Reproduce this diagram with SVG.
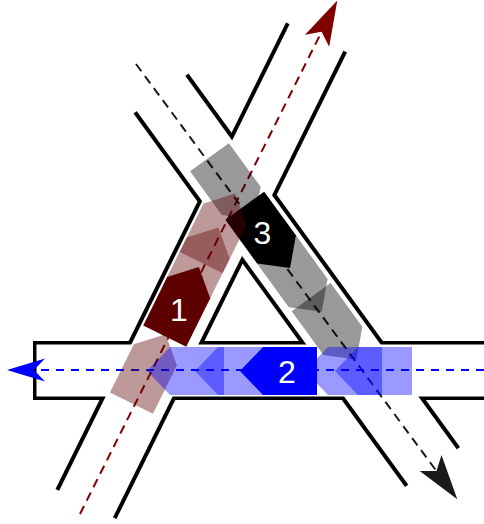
<svg xmlns="http://www.w3.org/2000/svg" width="484" height="524" viewBox="0 0 484 524">
<style>
.rb{stroke:#000;stroke-linecap:butt;fill:none}
.rw{stroke:#fff;stroke-linecap:butt;fill:none}
.lane{fill:none;stroke-width:2}
.lbl{font-family:"Liberation Sans",Arial,sans-serif;font-size:32px;fill:#fff;text-anchor:middle}
.ghost{fill-opacity:0.4}
</style>
<defs>
<path id="car" d="M-38.5,-24H15.5L38.5,0L15.5,24H-38.5Z"/>
</defs>
<rect width="484" height="524" fill="#fff"/>
<g id="roads">
<line class="rb" x1="86" y1="504" x2="316.5" y2="37.5" stroke-width="68"/>
<line class="rb" x1="161" y1="93.5" x2="432.5" y2="467" stroke-width="68"/>
<line class="rb" x1="33" y1="370.5" x2="494" y2="370.5" stroke-width="59"/>
<line class="rw" x1="81.6" y1="513" x2="320.9" y2="28.5" stroke-width="60"/>
<line class="rw" x1="155.1" y1="85.4" x2="438.4" y2="475.1" stroke-width="60"/>
<line class="rw" x1="36.5" y1="370.5" x2="494" y2="370.5" stroke-width="52"/>
</g>
<g id="connectors">
<line class="lane" x1="80" y1="514" x2="321.6" y2="31.8" stroke="#800000" stroke-dasharray="9 6"/>
<path d="M337.3,0.5L329.2,46.8L321.6,31.8L305,34.7Z" fill="#800000"/>
<line class="lane" x1="136" y1="64" x2="436.5" y2="471.1" stroke="#1a1a1a" stroke-dasharray="9 6"/>
<path d="M457.3,499.3L441.5,455.1L436.5,471.1L419.7,471.1Z" fill="#1a1a1a"/>
<line class="lane" x1="484" y1="370" x2="35" y2="370" stroke="#0000ff" stroke-dasharray="8 7"/>
<path d="M7,370L45,358.5L34,370L45,381.5Z" fill="#0000ff"/>
</g>
<g id="vehicle-3">
<g class="ghost" fill="#000">
<use href="#car" transform="translate(232.1,188.4) rotate(54)"/>
<use href="#car" transform="translate(299.1,280.6) rotate(54)"/>
<use href="#car" transform="translate(333.8,328.3) rotate(54)"/>
</g>
<use href="#car" transform="translate(267.4,236.9) rotate(54)" fill="#000"/>
<text class="lbl" x="262.5" y="243.5">3</text>
</g>
<g id="vehicle-1">
<g class="ghost" fill="#5c0000">
<use href="#car" transform="translate(148.5,368.7) rotate(-63.7)"/>
<use href="#car" transform="translate(201.3,262.1) rotate(-63.7)"/>
<use href="#car" transform="translate(218.2,228) rotate(-63.7)"/>
</g>
<use href="#car" transform="translate(181.8,301.5) rotate(-63.7)" fill="#5c0000"/>
<text class="lbl" x="179" y="320.5">1</text>
</g>
<g id="vehicle-2">
<g class="ghost" fill="#0000ff">
<use href="#car" transform="translate(185.5,371) rotate(180)"/>
<use href="#car" transform="translate(233.5,371) rotate(180)"/>
<use href="#car" transform="translate(343.5,371) rotate(180)"/>
<use href="#car" transform="translate(373.5,371) rotate(180)"/>
</g>
<use href="#car" transform="translate(278.5,371) rotate(180)" fill="#0000ff"/>
<text class="lbl" x="287" y="382.5">2</text>
</g>
</svg>
